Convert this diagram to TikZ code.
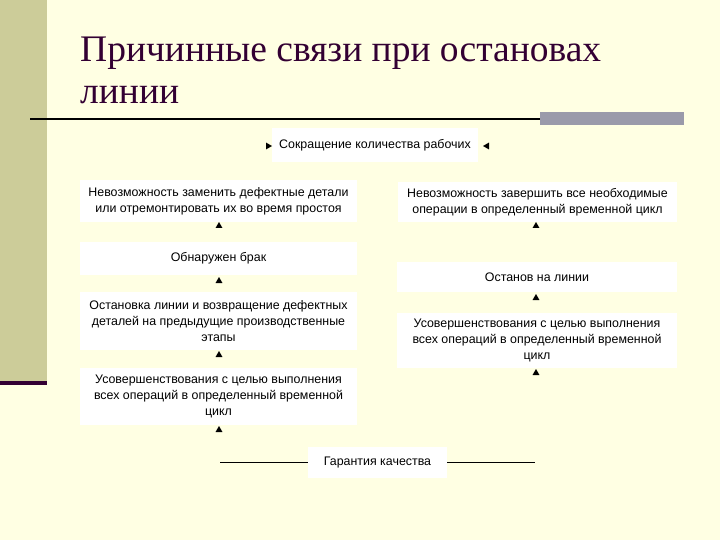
\documentclass[tikz,border=0pt]{standalone}
\usepackage{fontspec}
\usetikzlibrary{shapes.geometric}
\setmainfont{Liberation Sans}
\newfontfamily\titlefont{Liberation Serif}
\definecolor{bg}{HTML}{FFFFE3}
\definecolor{olive}{HTML}{CCCC99}
\definecolor{plum}{HTML}{330033}
\definecolor{greybar}{HTML}{9A9AAA}
\begin{document}
\begin{tikzpicture}[x=1pt,y=-1pt,
  box/.style={fill=white,draw=none,align=center,font=\fontsize{12.4}{16}\selectfont,inner sep=0pt},
  tri/.style={fill=black,draw=none,isosceles triangle,isosceles triangle apex angle=60,inner sep=0pt,minimum size=6pt}]
\fill[bg] (0,0) rectangle (720,540);
\useasboundingbox (0,0) rectangle (720,540);
\fill[olive] (0,0) rectangle (47,381);
\fill[plum] (0,381) rectangle (47,385);
\node[anchor=base west,font=\titlefont\fontsize{37.5}{40}\selectfont,text=plum,inner sep=0pt] (t1) at (80,62) {Причинные связи при остановах};
\node[anchor=base west,font=\titlefont\fontsize{37.5}{40}\selectfont,text=plum,inner sep=0pt] (t2) at (80,104) {линии};
\fill[greybar] (540,112) rectangle (684,125);
\draw[line width=2pt] (30,119) -- (540,119);
% boxes
\node[box,minimum width=206pt,minimum height=34pt] (top) at (375,145) {Сокращение количества рабочих};
\node[box,minimum width=277pt,minimum height=42pt] (l1) at (218.5,201) {Невозможность заменить дефектные детали\\или отремонтировать их во время простоя};
\node[box,minimum width=279pt,minimum height=40pt] (r1) at (537.5,202) {Невозможность завершить все необходимые\\операции в определенный временной цикл};
\node[box,minimum width=277pt,minimum height=33pt] (l2) at (218.5,258.5) {\raisebox{4pt}{Обнаружен брак}};
\node[box,minimum width=280pt,minimum height=30pt] (r2) at (537,277) {Останов на линии};
\node[box,minimum width=277pt,minimum height=58pt] (l3) at (218.5,321) {Остановка линии и возвращение дефектных\\деталей на предыдущие производственные\\этапы};
\node[box,minimum width=280pt,minimum height=55pt] (r3) at (537,340.5) {Усовершенствования с целью выполнения\\всех операций в определенный временной\\цикл};
\node[box,minimum width=277pt,minimum height=57pt] (l4) at (218.5,396.5) {Усовершенствования с целью выполнения\\всех операций в определенный временной\\цикл};
\node[box,minimum width=139pt,minimum height=31pt] (q) at (377.5,462.5) {Гарантия качества};
% arrowheads
\node[tri,shape border rotate=0] (a0) at (268,146) {};
\node[tri,shape border rotate=180] (a1) at (487,146) {};
\node[tri,shape border rotate=90] (al1) at (219,226) {};
\node[tri,shape border rotate=90] (ar1) at (536,226) {};
\node[tri,shape border rotate=90] (al2) at (219,281) {};
\node[tri,shape border rotate=90] (ar2) at (536,298) {};
\node[tri,shape border rotate=90] (al3) at (219,355) {};
\node[tri,shape border rotate=90] (ar3) at (536,373) {};
\node[tri,shape border rotate=90] (al4) at (219,430) {};
\coordinate (ql) at (220,462.5);
\coordinate (qr) at (535,462.5);
\draw[line width=0.8pt] (ql) -- (q.west);
\draw[line width=0.8pt] (q.east) -- (qr);
\end{tikzpicture}
\end{document}
